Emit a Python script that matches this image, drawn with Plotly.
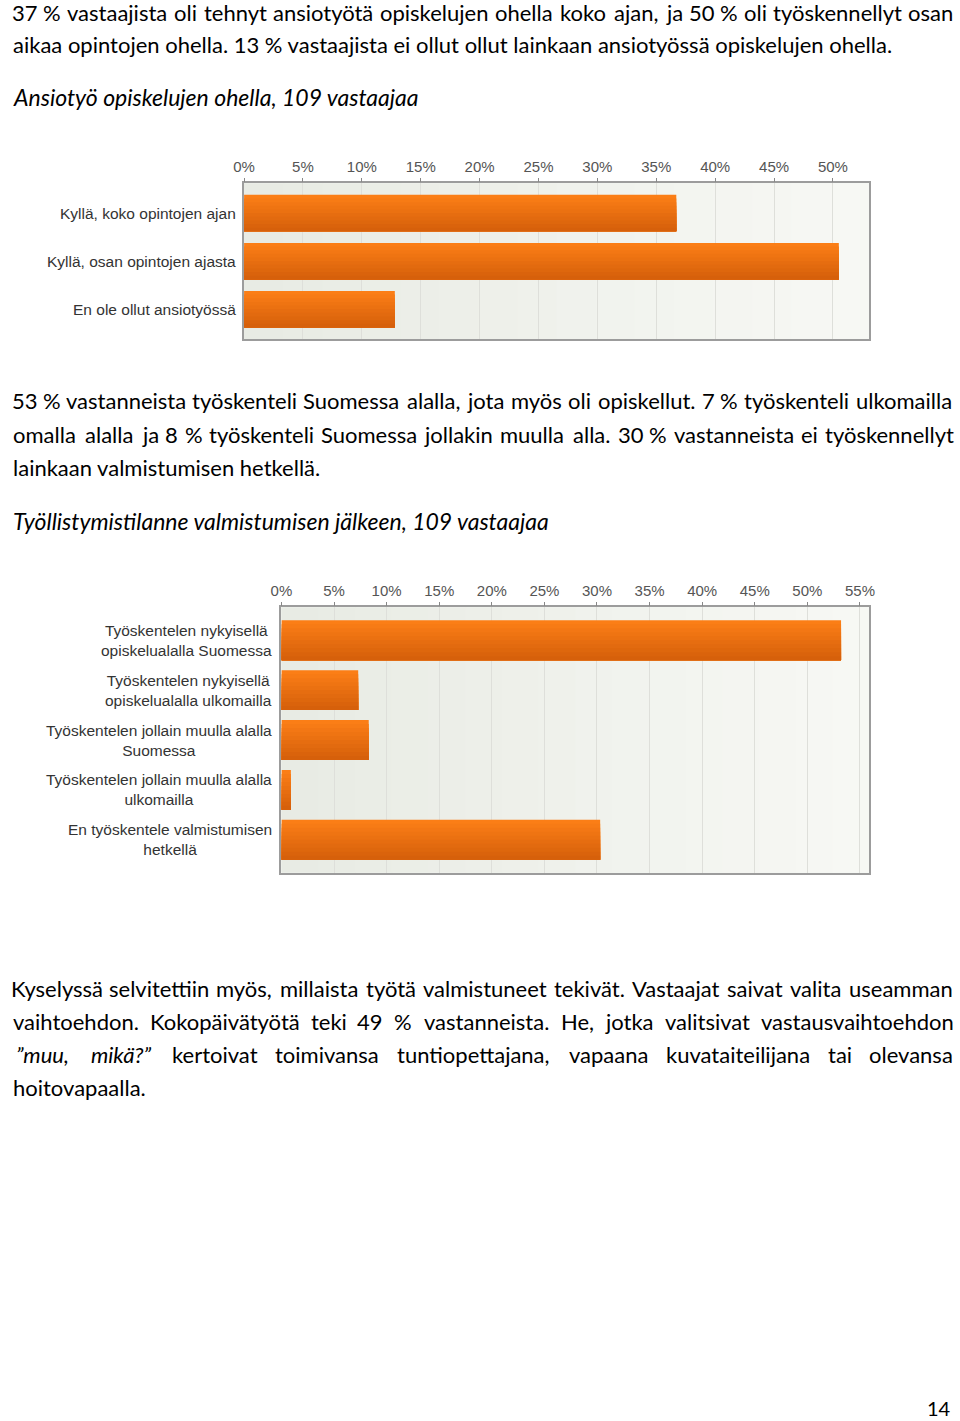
import re
import plotly.graph_objects as go

W, H = 960, 1421

# ---------------- data ----------------
cats1 = ["Kyllä, koko opintojen ajan", "Kyllä, osan opintojen ajasta", "En ole ollut ansiotyössä"]
vals1 = [36.7, 50.5, 12.8]
ticks1 = [0, 5, 10, 15, 20, 25, 30, 35, 40, 45, 50]

cats2 = [
    "Työskentelen nykyisellä<br>opiskelualalla Suomessa",
    "Työskentelen nykyisellä<br>opiskelualalla ulkomailla",
    "Työskentelen jollain muulla alalla<br>Suomessa",
    "Työskentelen jollain muulla alalla<br>ulkomailla",
    "En työskentele valmistumisen<br>hetkellä",
]
vals2 = [53.2, 7.3, 8.3, 0.9, 30.3]
ticks2 = [0, 5, 10, 15, 20, 25, 30, 35, 40, 45, 50, 55]

para1 = [
    "37 % vastaajista oli tehnyt ansiotyötä opiskelujen ohella koko ajan, ja 50 % oli työskennellyt osan",
    "aikaa opintojen ohella. 13 % vastaajista ei ollut ollut lainkaan ansiotyössä opiskelujen ohella.",
]
title1 = "Ansiotyö opiskelujen ohella, 109 vastaajaa"
para2 = [
    "53 % vastanneista työskenteli Suomessa alalla, jota myös oli opiskellut. 7 % työskenteli ulkomailla",
    "omalla alalla ja 8 % työskenteli Suomessa jollakin muulla alla. 30 % vastanneista ei työskennellyt",
    "lainkaan valmistumisen hetkellä.",
]
title2 = "Työllistymistilanne valmistumisen jälkeen, 109 vastaajaa"
para3 = [
    "Kyselyssä selvitettiin myös, millaista työtä valmistuneet tekivät. Vastaajat saivat valita useamman",
    "vaihtoehdon. Kokopäivätyötä teki 49 % vastanneista. He, jotka valitsivat vastausvaihtoehdon",
    "<i>”muu,</i> <i>mikä?”</i> kertoivat toimivansa tuntiopettajana, vapaana kuvataiteilijana tai olevansa",
    "hoitovapaalla.",
]
page_no = "14"

# ---------------- styling ----------------
BAR_TOP = (251, 126, 22)
BAR_BOT = (214, 96, 11)
BG_LEFT = (232, 235, 228)
BG_RIGHT = (247, 248, 244)
GRID = "#DEDFDA"
FRAME = "#9C9C9C"
LABEL_FONT = dict(family="Liberation Sans, Arial, sans-serif", size=15.5, color="#333333")
TICK_FONT = dict(family="Liberation Sans, Arial, sans-serif", size=15, color="#555555")
BODY_FONT = dict(family="Lato, sans-serif", size=22, color="#000000")
TITLE_FONT = dict(family="Lato, sans-serif", size=23, color="#000000")
PAGE_FONT = dict(family="Lato, sans-serif", size=20, color="#000000")


def px(x):
    return x / W


def py(y):
    return 1 - y / H


def mix(c1, c2, t):
    return "rgb(%d,%d,%d)" % tuple(round(a + (b - a) * t) for a, b in zip(c1, c2))


fig = go.Figure()

# bars with a vertical gradient made of overlaid bands
NB = 10
for vals, cats, xa, ya, bw in [(vals1, cats1, "x", "y", 0.76), (vals2, cats2, "x2", "y2", 0.8)]:
    for k in range(NB):
        start = -bw / 2 + k * bw / NB
        fig.add_trace(go.Bar(
            x=vals, y=cats, orientation="h", xaxis=xa, yaxis=ya,
            width=bw / 2 - start, offset=start,
            marker=dict(color=mix(BAR_TOP, BAR_BOT, k / (NB - 1)), line=dict(width=0)),
            showlegend=False, hoverinfo="x+y" if k == 0 else "skip",
        ))


def xax(domain, rng, ticks, anchor):
    return dict(domain=domain, range=rng, side="top", anchor=anchor,
                tickvals=ticks, ticktext=[f"{t}%" for t in ticks],
                tickfont=TICK_FONT, ticks="outside", ticklen=4, tickcolor="#888888",
                showgrid=True, gridcolor=GRID, gridwidth=1, zeroline=False,
                showline=True, linecolor=FRAME, linewidth=1.5, mirror=True, fixedrange=True)


def yax(domain, rng, anchor):
    return dict(domain=domain, range=rng, anchor=anchor, type="category",
                showticklabels=False, showgrid=False, zeroline=False, ticks="",
                showline=True, linecolor=FRAME, linewidth=1.5, mirror=True, fixedrange=True)


fig.update_layout(
    width=W, height=H, autosize=False, margin=dict(l=0, r=0, t=0, b=0, pad=0),
    paper_bgcolor="white", plot_bgcolor=mix(BG_LEFT, BG_RIGHT, 0.5), barmode="overlay",
    xaxis=xax([px(237), px(873)], [0, 53.1], ticks1, "y"),
    yaxis=yax([py(339), py(183.3)], [len(cats1) - 1 + 0.62, -0.62], "x"),
    xaxis2=xax([px(275), px(873)], [0, 55.9], ticks2, "y2"),
    yaxis2=yax([py(872.7), py(607.3)], [len(cats2) - 1 + 0.66, -0.66], "x2"),
)

# plot-area background gradient (left darker, right lighter)
NS = 16
shapes = []
for xa, ya in [("x", "y"), ("x2", "y2")]:
    for k in range(NS):
        shapes.append(dict(type="rect", xref=f"{xa} domain", yref=f"{ya} domain",
                           x0=k / NS, x1=(k + 1) / NS + 0.002, y0=0, y1=1, layer="below",
                           line=dict(width=0), fillcolor=mix(BG_LEFT, BG_RIGHT, k / (NS - 1))))
fig.update_layout(shapes=shapes)

ann = []
for i, c in enumerate(cats1):
    ann.append(dict(text=c, x=px(231), xref="paper", y=i, yref="y", xanchor="right",
                    yanchor="middle", align="right", showarrow=False, font=LABEL_FONT))
for i, c in enumerate(cats2):
    ann.append(dict(text=c, x=px(267), xref="paper", y=i, yref="y2", xanchor="right",
                    yanchor="middle", align="center", showarrow=False, font=LABEL_FONT))

# approximate Calibri advance widths (units of 1/2048 em), used to justify lines
CAL = dict(zip("abcdefghijklmnopqrstuvwxyz",
               [981, 1076, 866, 1076, 1019, 625, 964, 1076, 470, 490, 931, 470, 1636,
                1076, 1080, 1076, 1076, 714, 801, 686, 1076, 925, 1464, 887, 927, 809]))
CAL.update(dict(zip("ABCDEFGHIJKLMNOPQRSTUVWXYZ",
                    [1185, 1114, 1092, 1260, 1000, 941, 1292, 1276, 516, 653, 1064, 861, 1751,
                     1322, 1356, 1058, 1378, 1112, 941, 998, 1314, 1162, 1822, 1063, 998, 959])))
CAL.update({d: 1038 for d in "0123456789"})
CAL.update({"ä": 981, "ö": 1080, " ": 463, ".": 517, ",": 511, "%": 1467, "?": 941, "”": 820})
EM = 23.7
LEFT, RIGHT = 2, 958


def wwidth(word):
    plain = re.sub(r"<[^>]+>", "", word)
    return sum(CAL.get(ch, 1000) for ch in plain) / 2048 * EM


def plain_line(text, y, font=BODY_FONT):
    ann.append(dict(text=text, x=px(LEFT), xref="paper", y=py(y), yref="paper",
                    xanchor="left", yanchor="middle", showarrow=False, font=font,
                    borderpad=0, borderwidth=0))


def justified_line(text, y, font=BODY_FONT):
    words = text.split(" ")
    widths = [wwidth(w) for w in words]
    gap = (RIGHT - LEFT - sum(widths)) / (len(words) - 1)
    x = LEFT
    for w, wd in zip(words, widths):
        ann.append(dict(text=w, x=px(x + wd / 2), xref="paper", y=py(y), yref="paper",
                        xanchor="center", yanchor="middle", showarrow=False, font=font,
                        borderpad=0, borderwidth=0))
        x += wd + gap


def paragraph(lines, y0, step):
    for k, line in enumerate(lines):
        if k < len(lines) - 1:
            justified_line(line, y0 + step * k)
        else:
            plain_line(line, y0 + step * k)


paragraph(para1, 12, 33)
plain_line(f"<i>{title1}</i>", 97, TITLE_FONT)
paragraph(para2, 401, 33.3)
plain_line(f"<i>{title2}</i>", 521, TITLE_FONT)
paragraph(para3, 988, 33.3)
ann.append(dict(text=page_no, x=px(956), xref="paper", y=py(1407.5), yref="paper",
                xanchor="right", yanchor="middle", showarrow=False, font=PAGE_FONT,
                borderpad=0, borderwidth=0))

fig.update_layout(annotations=ann)
fig.write_html("out.html")
